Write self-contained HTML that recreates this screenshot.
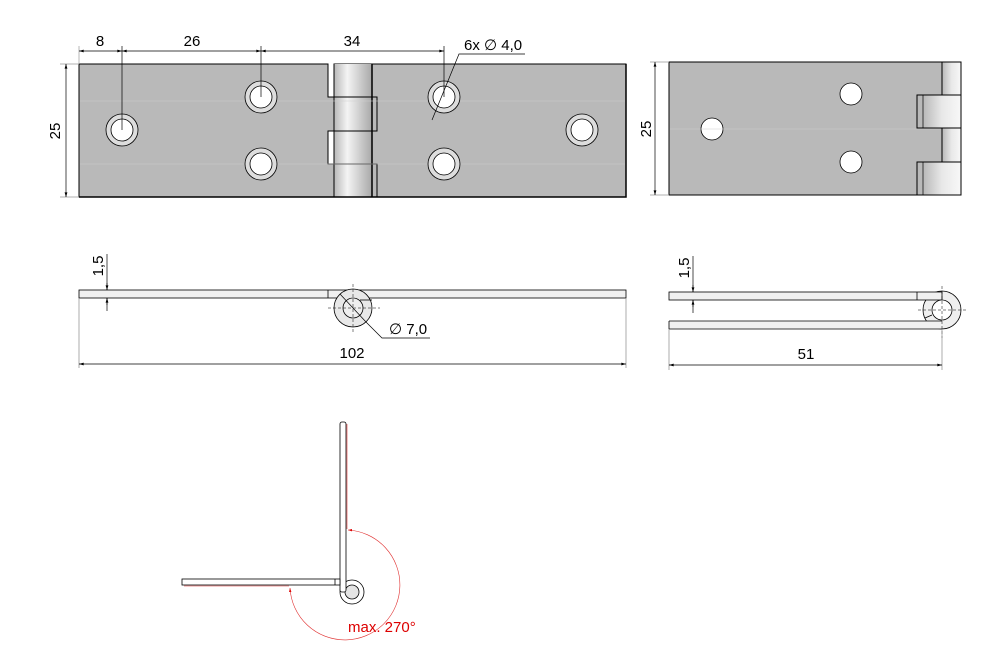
<!DOCTYPE html>
<html><head><meta charset="utf-8"><style>
html,body{margin:0;padding:0;background:#fff;}
svg{display:block;font-family:"Liberation Sans",sans-serif;}
</style></head><body>
<svg width="1000" height="662" viewBox="0 0 1000 662" xmlns="http://www.w3.org/2000/svg">
<defs>
<linearGradient id="kn" x1="0" x2="1" y1="0" y2="0">
<stop offset="0" stop-color="#b8b8b8"/><stop offset="0.35" stop-color="#f4f4f4"/><stop offset="1" stop-color="#a8a8a8"/></linearGradient>
<linearGradient id="kn2" x1="0" x2="1" y1="0" y2="0">
<stop offset="0" stop-color="#b8b8b8"/><stop offset="0.5" stop-color="#e8e8e8"/><stop offset="1" stop-color="#f8f8f8"/></linearGradient>
<marker id="ar" viewBox="0 0 10 6" refX="10" refY="3" markerWidth="8" markerHeight="4" orient="auto-start-reverse"><path d="M0,0L10,3L0,6z" fill="#000"/></marker>
<marker id="rar" viewBox="0 0 10 6" refX="10" refY="3" markerWidth="7" markerHeight="4" orient="auto-start-reverse"><path d="M0,0L10,3L0,6z" fill="#d00"/></marker>
</defs>

<!-- TOP LEFT VIEW -->
<g stroke="#000" stroke-width="1">
<path d="M79,64H328V97H377V131H328V164H377V197H79Z" fill="#b9b9b9"/>
<path d="M334,64H626V197H377V164H334V131H377V97H334Z" fill="#b9b9b9"/>
<rect x="334" y="64" width="38" height="133" fill="url(#kn)" stroke="none"/>
<line x1="334" y1="64" x2="334" y2="197"/>
<line x1="372" y1="64" x2="372" y2="197" stroke-width="1.5"/>
<path d="M334,97H377V131H334M334,164H377V197" fill="none"/>
<path d="M626,64V197H79" fill="none" stroke-width="1.5"/>
</g>
<g stroke="#cfcfcf" stroke-width="0.6"><line x1="80" y1="101" x2="625" y2="101"/><line x1="80" y1="164" x2="625" y2="164"/></g>
<g stroke="#000" stroke-width="0.8">
<g fill="#ddd"><circle cx="122" cy="130" r="16"/><circle cx="261" cy="97" r="16"/><circle cx="261" cy="164" r="16"/><circle cx="444" cy="97" r="16"/><circle cx="444" cy="164" r="16"/><circle cx="582" cy="130" r="16"/></g>
<g fill="#fff"><circle cx="122" cy="130" r="11"/><circle cx="261" cy="97" r="11"/><circle cx="261" cy="164" r="11"/><circle cx="444" cy="97" r="11"/><circle cx="444" cy="164" r="11"/><circle cx="582" cy="130" r="11"/></g>
</g>
<g stroke="#000" stroke-width="0.7" fill="none">
<line x1="79" y1="46" x2="79" y2="64" stroke="#999"/>
<line x1="122" y1="46" x2="122" y2="130"/><line x1="261" y1="46" x2="261" y2="97"/><line x1="444" y1="46" x2="444" y2="97"/>
<line x1="79" y1="51" x2="122" y2="51" marker-start="url(#ar)" marker-end="url(#ar)"/>
<line x1="122" y1="51" x2="261" y2="51" marker-start="url(#ar)" marker-end="url(#ar)"/>
<line x1="261" y1="51" x2="444" y2="51" marker-start="url(#ar)" marker-end="url(#ar)"/>
<polyline points="525,54 459,54 432,120"/>
<line x1="60" y1="64" x2="79" y2="64" stroke="#999"/><line x1="60" y1="197" x2="79" y2="197" stroke="#999"/>
<line x1="66" y1="64" x2="66" y2="197" marker-start="url(#ar)" marker-end="url(#ar)"/>
</g>
<g font-size="15" fill="#000">
<text x="100" y="46" text-anchor="middle">8</text>
<text x="192" y="46" text-anchor="middle">26</text>
<text x="352" y="46" text-anchor="middle">34</text>
<text x="464" y="50">6x ∅ 4,0</text>
<text transform="translate(60,131) rotate(-90)" text-anchor="middle">25</text>
</g>

<!-- TOP RIGHT VIEW -->
<g stroke="#000" stroke-width="1">
<rect x="669" y="62" width="292" height="133" fill="#b9b9b9"/>
<rect x="942" y="62" width="19" height="133" fill="url(#kn2)" stroke="none"/>
<line x1="942" y1="62" x2="942" y2="195"/>
<rect x="923" y="95" width="38" height="33" fill="url(#kn2)" stroke="none"/>
<rect x="923" y="162" width="38" height="33" fill="url(#kn2)" stroke="none"/>
<path d="M917,95H961V128H917ZM917,162H961V195H917Z" fill="none"/>
<path d="M923,95V128M923,162V195" fill="none" stroke-width="0.7"/>
<rect x="669" y="62" width="292" height="133" fill="none"/>
<g fill="#fff" stroke-width="0.8"><circle cx="712" cy="129" r="11"/><circle cx="851" cy="94" r="11"/><circle cx="851" cy="162" r="11"/></g>
</g>
<line x1="670" y1="129" x2="940" y2="129" stroke="#d0d0d0" stroke-width="0.6"/>
<g stroke="#000" stroke-width="0.7"><line x1="650" y1="62" x2="669" y2="62" stroke="#999"/><line x1="650" y1="195" x2="669" y2="195" stroke="#999"/>
<line x1="655" y1="62" x2="655" y2="195" marker-start="url(#ar)" marker-end="url(#ar)"/></g>
<text transform="translate(651,129) rotate(-90)" text-anchor="middle" font-size="15">25</text>

<!-- SIDE VIEW LEFT -->
<g stroke="#000" stroke-width="0.8">
<rect x="79" y="290" width="547" height="8" fill="#f0f0f0"/>
<line x1="328" y1="290" x2="328" y2="298"/>
<circle cx="353" cy="308" r="19" fill="#e8e8e8"/>
<circle cx="353" cy="308" r="10" fill="#eee"/>
<path d="M372,300 L360,300" />
</g>
<g stroke="#000" stroke-width="0.5" stroke-dasharray="3,2"><line x1="353" y1="284" x2="353" y2="334"/><line x1="328" y1="308" x2="380" y2="308"/></g>
<g stroke="#000" stroke-width="0.7" fill="none">
<line x1="340" y1="294" x2="366" y2="322"/><polyline points="366,322 382,338 430,338"/>
<line x1="107" y1="254" x2="107" y2="290" /><line x1="107" y1="298" x2="107" y2="311"/>
<line x1="107" y1="283" x2="107" y2="290" marker-end="url(#ar)"/><line x1="107" y1="305" x2="107" y2="298" marker-end="url(#ar)"/>
<line x1="79" y1="298" x2="79" y2="368" stroke="#888"/><line x1="626" y1="298" x2="626" y2="368" stroke="#888"/>
<line x1="79" y1="364" x2="626" y2="364" marker-start="url(#ar)" marker-end="url(#ar)"/>
</g>
<g font-size="15"><text x="389" y="334">∅ 7,0</text><text x="352" y="358" text-anchor="middle">102</text>
<text transform="translate(103,266) rotate(-90)" text-anchor="middle">1,5</text></g>

<!-- SIDE VIEW RIGHT -->
<g stroke="#000" stroke-width="0.8">
<circle cx="942" cy="310" r="19" fill="#efefef"/>
<rect x="669" y="292" width="273" height="8" fill="#f0f0f0"/>
<rect x="669" y="321" width="273" height="8" fill="#f0f0f0" stroke="none"/>
<path d="M669,321H942M669,329H942M669,321V329"/>
<line x1="917" y1="292" x2="917" y2="300"/>
<circle cx="942" cy="310" r="10" fill="#fff"/>
<line x1="925" y1="318" x2="932" y2="315"/>
</g>
<g stroke="#000" stroke-width="0.5" stroke-dasharray="3,2"><line x1="942" y1="286" x2="942" y2="338"/><line x1="918" y1="310" x2="966" y2="310"/></g>
<g stroke="#000" stroke-width="0.7" fill="none">
<line x1="693" y1="256" x2="693" y2="292"/><line x1="693" y1="300" x2="693" y2="313"/>
<line x1="693" y1="285" x2="693" y2="292" marker-end="url(#ar)"/><line x1="693" y1="307" x2="693" y2="300" marker-end="url(#ar)"/>
<line x1="669" y1="329" x2="669" y2="370" stroke="#888"/><line x1="942" y1="329" x2="942" y2="370" stroke="#888"/>
<line x1="669" y1="365" x2="942" y2="365" marker-start="url(#ar)" marker-end="url(#ar)"/>
</g>
<g font-size="15"><text x="806" y="359" text-anchor="middle">51</text>
<text transform="translate(689,268) rotate(-90)" text-anchor="middle">1,5</text></g>

<!-- OPENING VIEW -->
<g stroke="#000" stroke-width="0.8">
<circle cx="352" cy="592" r="12" fill="#fff"/>
<circle cx="352" cy="592" r="7" fill="#e4e4e4"/>
<rect x="340" y="422" width="6" height="170" rx="2" fill="#fff"/>
<rect x="182" y="579" width="158" height="6" fill="#fff"/>
<line x1="335" y1="579" x2="335" y2="585"/>
</g>
<g stroke="#e03030" stroke-width="0.6" fill="none">
<line x1="347" y1="424" x2="347" y2="529"/>
<line x1="184" y1="586" x2="289" y2="586"/>
<path d="M348,530 A55,55 0 1 1 290,588" marker-start="url(#rar)" marker-end="url(#rar)"/>
</g>
<text x="348" y="632" font-size="15" fill="#d00">max. 270°</text>
</svg>
</body></html>
